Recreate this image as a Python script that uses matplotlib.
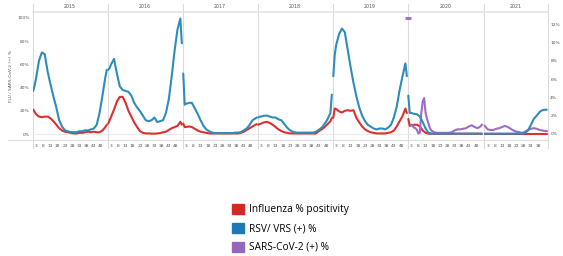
import numpy as np
import matplotlib
matplotlib.use("Agg")
import matplotlib.pyplot as plt
import matplotlib.transforms as mtransforms
from matplotlib.patches import Patch

# year panels (weekly data, one pane per year)
years = [2015, 2016, 2017, 2018, 2019, 2020, 2021]
year_offset = [0, 52, 104, 156, 208, 260, 313]
year_weeks = [52, 52, 52, 52, 52, 53, 44]

# week grids used for the readings
W = [1, 2, 3, 5, 7, 9, 11, 13, 15, 17, 19, 21, 23, 25, 27, 29, 31, 33, 35, 37,
     39, 41, 43, 45, 47, 49, 51, 52]
W21 = [1, 3, 5, 7, 9, 11, 13, 15, 17, 19, 21, 23, 25, 27, 29, 31, 33, 35, 37,
       39, 41, 43, 44]

# Influenza % positivity (left axis)
flu_2015 = [21, 19, 17, 15, 14.5, 15, 15, 13.5, 11, 8, 5, 3, 2, 1.5, 1, 0.5, 0.5, 1,
            1, 1.5, 2, 1.5, 2, 1.5, 1.5, 3, 6, 8]
flu_2016 = [9, 12, 15, 21, 28, 32, 32, 27, 20, 15, 10, 6, 2.5, 1, 0.5, 0.5, 0.3, 0.3,
            0.5, 0.8, 1.5, 2, 3.5, 5, 6, 7, 10.5, 8]
flu_2017 = [9, 6, 6, 6.5, 6, 4.5, 3, 2, 1.5, 1, 0.5, 0.5, 0.5, 0.5, 0.5, 0.5, 0.5,
            0.5, 0.5, 0.5, 0.5, 1, 2, 3.5, 5, 6.5, 8, 8.5]
flu_2018 = [8, 8.5, 9, 10, 10.5, 9.5, 8, 6, 4, 2.5, 1.5, 1, 0.5, 0.5, 0.5, 0.5, 0.5,
            0.5, 0.5, 0.5, 0.5, 0.5, 2.5, 4, 6, 8.5, 11, 14]
flu_2019 = [14, 22, 21.5, 19.5, 18.5, 20, 20.5, 20, 20.5, 14, 10, 6.5, 4, 2.5, 1.5,
            1, 0.5, 0.5, 0.5, 0.5, 1, 1.5, 3, 6.5, 11, 15.5, 22, 18]
flu_2020 = [13, 7, 7.5, 8, 8, 6.5, 3, 1, 0.3, 0.2, 0.2, 0.2, 0.2, 0.2, 0.2, 0.2, 0.2,
            0.2, 0.2, 0.2, 0.2, 0.2, 0.2, 0.2, 0.2, 0.2, 0.2, 0.2]
flu_2021 = [0.2, 0.2, 0.2, 0.2, 0.2, 0.2, 0.2, 0.2, 0.2, 0.2, 0.2, 0.2, 0.2, 0.2, 0.2,
            0.2, 0.2, 0.2, 0.2, 0.2, 0.2, 0.2, 0.2]

# RSV/ VRS (+) % (right axis)
rsv_2015 = [4.7, 5.3, 6.1, 8.0, 8.9, 8.7, 6.8, 5.4, 4.1, 2.9, 1.5, 0.8, 0.4, 0.3, 0.2,
            0.2, 0.2, 0.3, 0.3, 0.4, 0.4, 0.5, 0.6, 1.0, 2.3, 4.2, 6.2, 7.0]
rsv_2016 = [7.0, 7.2, 7.6, 8.2, 6.6, 5.2, 4.8, 4.7, 4.6, 4.2, 3.4, 2.9, 2.5, 2.0, 1.5,
            1.4, 1.5, 1.8, 1.3, 1.4, 1.5, 2.3, 3.8, 6.3, 9.1, 11.4, 12.6, 9.9]
rsv_2017 = [6.6, 3.2, 3.3, 3.4, 3.4, 2.8, 2.2, 1.5, 0.9, 0.5, 0.3, 0.15, 0.1, 0.1, 0.1,
            0.1, 0.1, 0.1, 0.1, 0.15, 0.15, 0.2, 0.4, 0.6, 1.0, 1.5, 1.7, 1.8]
rsv_2018 = [1.8, 1.9, 1.9, 2.0, 2.0, 1.9, 1.8, 1.8, 1.6, 1.5, 1.1, 0.7, 0.4, 0.25,
            0.15, 0.15, 0.15, 0.15, 0.15, 0.15, 0.15, 0.25, 0.45, 0.7, 1.1, 1.6, 2.3, 4.3]
rsv_2019 = [6.3, 8.6, 9.7, 10.9, 11.5, 11.1, 9.2, 7.3, 5.6, 4.1, 2.9, 2.0, 1.4, 1.0,
            0.8, 0.6, 0.5, 0.6, 0.6, 0.5, 0.7, 1.0, 1.8, 3.0, 4.8, 6.3, 7.7, 6.3]
rsv_2020 = [4.2, 2.3, 2.3, 2.2, 2.15, 1.9, 1.3, 0.6, 0.13, 0.06, 0.04, 0.04, 0.04, 0.04,
            0.04, 0.04, 0.04, 0.04, 0.04, 0.04, 0.04, 0.04, 0.04, 0.04, 0.04, 0.04,
            0.04, 0.04]
rsv_2021 = [0.04, 0.04, 0.04, 0.04, 0.04, 0.04, 0.04, 0.04, 0.04, 0.04, 0.04, 0.04,
            0.04, 0.04, 0.13, 0.4, 1.0, 1.65, 2.0, 2.4, 2.6, 2.65, 2.65]

# SARS-CoV-2 (+) % (left axis)
cov_weeks_2020 = [1, 2, 3, 4, 5, 6, 7, 8, 9, 10, 11, 12, 13, 14, 15, 16, 17, 19, 21,
                  23, 25, 27, 29, 31, 33, 35, 37, 39, 41, 43, 45, 47, 49, 51, 52]
cov_2020 = [100, np.nan, 8, 7, 5.5, 5, 3.5, 0.5, 1, 18, 28, 31, 18, 13, 9, 5, 3, 1.5,
            1, 1, 1, 1, 1, 1.5, 3, 4, 4, 4.5, 5, 6.5, 7.5, 6, 5, 6.5, 8]
cov_2021 = [7, 4, 3.5, 3.5, 4.5, 5, 6, 7, 6, 4.5, 3, 2, 1.5, 1, 2, 3.5, 4.5, 5, 4.5,
            3.5, 3, 2.5, 2.5]

flu = [flu_2015, flu_2016, flu_2017, flu_2018, flu_2019, flu_2020, flu_2021]
rsv = [rsv_2015, rsv_2016, rsv_2017, rsv_2018, rsv_2019, rsv_2020, rsv_2021]
grids = [W, W, W, W, W, W, W21]

week_ticks = [3, 8, 13, 18, 23, 28, 33, 38, 43, 48]
left_ticks = [0, 20, 40, 60, 80, 100]
right_ticks = [0, 2, 4, 6, 8, 10, 12]

c_flu = '#de2f2f'
c_rsv = '#2e8db8'
c_cov = '#9d6cc6'
grid_c = '#dcdcdc'
txt_c = '#555555'

fig = plt.figure(figsize=(5.63, 2.56), dpi=100)
ax = fig.add_axes([32.5 / 563, 1 - 140 / 256, 515 / 563, 128 / 256])
ax2 = ax.twinx()

for i in range(len(years)):
    x = [year_offset[i] + w for w in grids[i]]
    ax.plot(x, flu[i], color=c_flu, lw=1.5, solid_capstyle='round', zorder=3)
    ax2.plot(x, rsv[i], color=c_rsv, lw=1.5, solid_capstyle='round', zorder=3)

xc = [year_offset[5] + w for w in cov_weeks_2020]
ax.plot(xc, cov_2020, color=c_cov, lw=1.5, zorder=4)
ax.plot(xc[0], cov_2020[0], marker='_', ms=4, mew=2, color=c_cov, zorder=4)
xc21 = [year_offset[6] + w for w in W21]
ax.plot(xc21, cov_2021, color=c_cov, lw=1.5, zorder=4)

xmax = year_offset[-1] + year_weeks[-1] + 0.5
ax.set_xlim(0.5, xmax)
ax.set_ylim(-5.17, 105.17)
ax2.set_ylim(-0.655, 13.31)

ax.axhline(0, color='#e8e8e8', lw=0.6, zorder=1)

# x ticks: week numbers repeated in every year pane
xt, xl = [], []
for i in range(len(years)):
    for w in week_ticks:
        if w <= year_weeks[i] - 4:
            xt.append(year_offset[i] + w)
            xl.append(str(w))
ax.set_xticks(xt)
ax.set_xticklabels(xl, fontsize=3.2, color=txt_c)
ax.tick_params(axis='x', length=0, pad=3)

ax.set_yticks(left_ticks)
ax.set_yticklabels([f'{v}%' for v in left_ticks], fontsize=3.2, color=txt_c)
ax.tick_params(axis='y', length=0, pad=2)
ax2.set_yticks(right_ticks)
ax2.set_yticklabels([f'{v}%' for v in right_ticks], fontsize=3.2, color=txt_c)
ax2.tick_params(axis='y', length=0, pad=2)
ax.set_ylabel('FLU / SARS-CoV-2 (+) %', fontsize=3.2, color=txt_c, labelpad=3)

for a in (ax, ax2):
    for s in a.spines.values():
        s.set_visible(False)

# pane separators and year header
trans = mtransforms.blended_transform_factory(ax.transData, ax.transAxes)
bounds = [o + 0.5 for o in year_offset] + [xmax]
for b in bounds:
    ax.plot([b, b], [-0.06, 1.065], transform=trans, color=grid_c, lw=0.8,
            clip_on=False, zorder=0)
for i, y in enumerate(years):
    ax.text((bounds[i] + bounds[i + 1]) / 2, 1.045, str(y), transform=trans,
            ha='center', va='center', fontsize=3.4, color=txt_c)
ax.plot([0.5, xmax], [1, 1], transform=trans, color='#e4e4e4', lw=1.2,
        clip_on=False, zorder=0)
fig.add_artist(plt.Line2D([8 / 563, 548 / 563], [1 - 140 / 256, 1 - 140 / 256],
                          color=grid_c, lw=0.8))

# legend below the chart
handles = [Patch(color='#d62728', label='Influenza % positivity'),
           Patch(color='#1f77b4', label='RSV/ VRS (+) %'),
           Patch(color='#9467bd', label='SARS-CoV-2 (+) %')]
fig.legend(handles=handles, loc='upper left', bbox_to_anchor=(232 / 563, 1 - 204 / 256),
           frameon=False, prop={'family': 'Open Sans', 'size': 7.3},
           handlelength=1.15, handleheight=1.15, handletextpad=0.55,
           labelspacing=0.72, borderpad=0, borderaxespad=0)

fig.savefig('out.png', dpi=100)
